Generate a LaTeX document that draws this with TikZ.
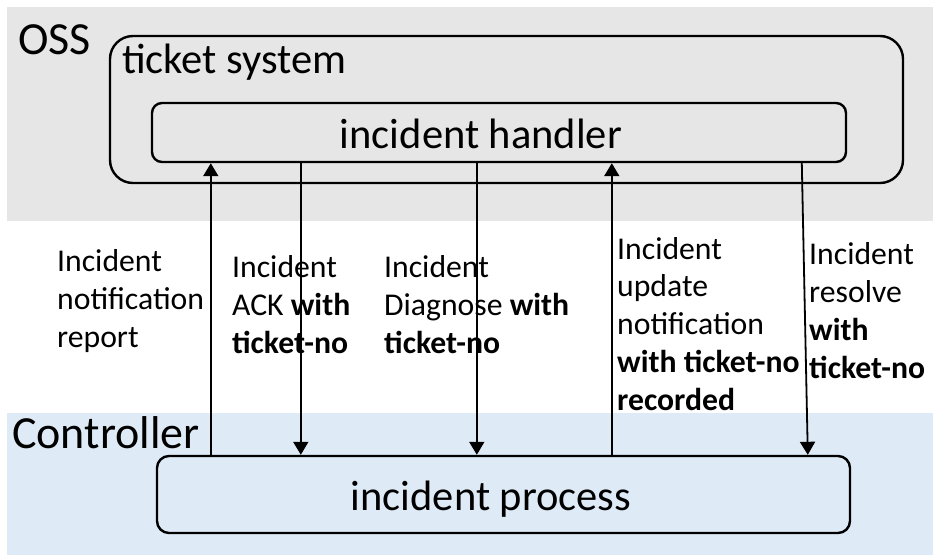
\documentclass[tikz,border=0pt]{standalone}
\usepackage{fontspec}
\setmainfont{Carlito}
\usetikzlibrary{arrows.meta}
\definecolor{ossgray}{HTML}{E6E6E6}
\definecolor{ctrlblue}{HTML}{DEEBF7}
\begin{document}
\begin{tikzpicture}[x=1pt,y=-1pt,
  box/.style={draw=black, line width=2.4pt, inner sep=0pt, fill=none},
  bigtext/.style={font=\fontsize{42.5}{50}\selectfont, inner sep=0pt, anchor=base},
  areatext/.style={font=\fontsize{46}{54}\selectfont, inner sep=0pt, anchor=base west},
  msg/.style={font=\fontsize{31.7}{37.7}\selectfont, inner sep=0pt, align=left, anchor=base west},
  arr/.style={line width=1.8pt, -{Triangle[width=15pt,length=13pt]}}
]
\useasboundingbox (0,0) rectangle (933,555);
\fill[ossgray] (7,7) rectangle (933,221);
\fill[ctrlblue] (7,413) rectangle (933,555);

\node[areatext] (oss) at (18,54) {OSS};
\node[areatext] (ctrl) at (12,448) {Controller};

\node[box, rounded corners=23pt, minimum width=793pt, minimum height=147pt] (ts) at (506.5,109.5) {};
\node[bigtext, anchor=base west] (tstext) at (122,73) {ticket system};

\node[box, rounded corners=10pt, minimum width=694pt, minimum height=59pt] (ih) at (499,132.5) {};
\node[bigtext] (ihtext) at (481,148) {incident handler};

\node[box, rounded corners=12pt, minimum width=693pt, minimum height=77pt] (ip) at (503.5,494.5) {};
\node[bigtext] (iptext) at (491,510) {incident process};

\draw[arr] ([xshift=55pt]ip.north west) -- ([xshift=60pt]ih.south west);
\draw[arr] ([xshift=150pt]ih.south west) -- ([xshift=145pt]ip.north west);
\draw[arr] ([xshift=326pt]ih.south west) -- ([xshift=321pt]ip.north west);
\draw[arr] ([xshift=456pt]ip.north west) -- ([xshift=461pt]ih.south west);
\draw[arr] ([xshift=651pt]ih.south west) -- ([xshift=652pt]ip.north west);

\node[msg] (m1) at (57,347) {Incident\\notification\\report};
\node[msg] (m2) at (232,353) {Incident\\ACK \textbf{with}\\\textbf{ticket-no}};
\node[msg] (m3) at (384,353) {Incident\\Diagnose \textbf{with}\\\textbf{ticket-no}};
\node[msg] (m4) at (617,410) {Incident\\update\\notification\\\textbf{with ticket-no}\\\textbf{recorded}};
\node[msg] (m5) at (809,378) {Incident\\resolve\\\textbf{with}\\\textbf{ticket-no}};
\end{tikzpicture}
\end{document}
